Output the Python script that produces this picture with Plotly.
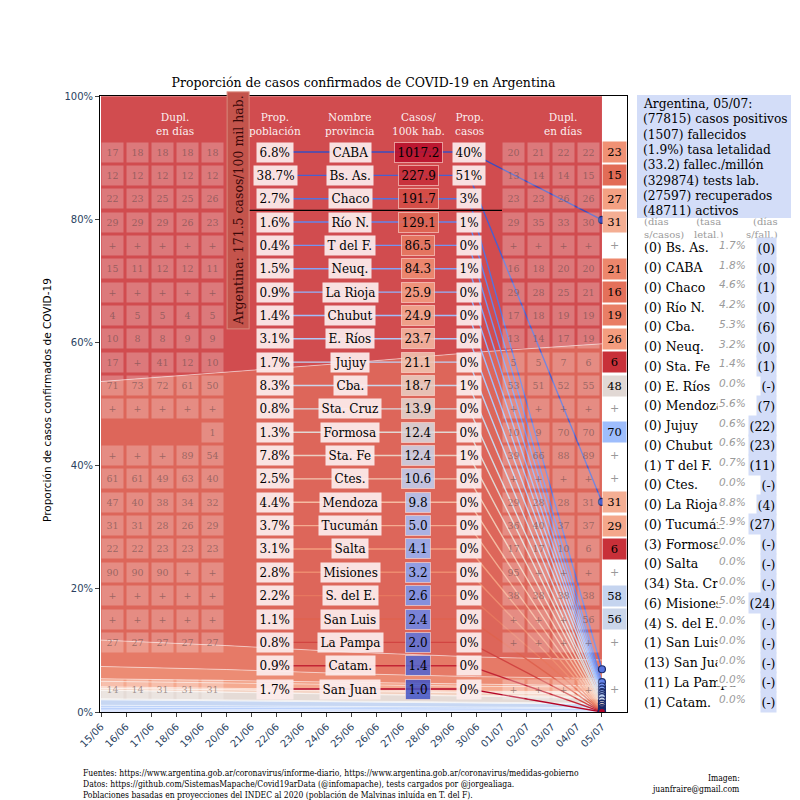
import plotly.graph_objects as go
import plotly.colors as pc

# ---------------- data ----------------
dates = ['15/06', '16/06', '17/06', '18/06', '19/06', '20/06', '21/06', '22/06', '23/06', '24/06',
         '25/06', '26/06', '27/06', '28/06', '29/06', '30/06', '01/07', '02/07', '03/07', '04/07', '05/07']

provinces = ['CABA', 'Bs. As.', 'Chaco', 'Río N.', 'T del F.', 'Neuq.', 'La Rioja', 'Chubut', 'E. Ríos',
             'Jujuy', 'Cba.', 'Sta. Cruz', 'Formosa', 'Sta. Fe', 'Ctes.', 'Mendoza', 'Tucumán', 'Salta',
             'Misiones', 'S. del E.', 'San Luis', 'La Pampa', 'Catam.', 'San Juan']
prop_poblacion = [6.8, 38.7, 2.7, 1.6, 0.4, 1.5, 0.9, 1.4, 3.1, 1.7, 8.3, 0.8, 1.3, 7.8, 2.5, 4.4,
                  3.7, 3.1, 2.8, 2.2, 1.1, 0.8, 0.9, 1.7]
casos_100k = [1017.2, 227.9, 191.7, 129.1, 86.5, 84.3, 25.9, 24.9, 23.7, 21.1, 18.7, 13.9, 12.4, 12.4,
              10.6, 9.8, 5.0, 4.1, 3.2, 2.6, 2.4, 2.0, 1.4, 1.0]
prop_casos = [40, 51, 3, 1, 0, 1, 0, 0, 0, 0, 1, 0, 0, 1, 0, 0, 0, 0, 0, 0, 0, 0, 0, 0]
casos_arg_100k = 171.5

# doubling days, first five dates
dupl_first = [
    ['17', '18', '18', '18', '18'], ['12', '12', '12', '12', '12'], ['22', '23', '25', '25', '26'],
    ['29', '29', '29', '26', '23'], ['+', '+', '+', '+', '+'], ['15', '11', '12', '12', '11'],
    ['+', '+', '+', '+', '+'], ['4', '5', '5', '4', '5'], ['10', '8', '8', '9', '9'],
    ['17', '+', '41', '12', '10'], ['71', '73', '72', '61', '50'], ['+', '+', '+', '+', '+'],
    ['', '', '', '', '1'], ['+', '+', '+', '89', '54'], ['61', '61', '49', '63', '40'],
    ['47', '40', '38', '34', '32'], ['31', '31', '28', '26', '29'], ['22', '22', '23', '23', '23'],
    ['90', '90', '90', '+', '+'], ['+', '+', '+', '+', '+'], ['+', '+', '+', '+', '+'],
    ['27', '27', '27', '27', '27'], ['', '', '', '', ''], ['14', '14', '31', '31', '31']]
# doubling days, 01/07 - 04/07
dupl_last4 = [
    ['20', '21', '22', '22'], ['13', '14', '14', '15'], ['23', '23', '26', '26'], ['29', '35', '33', '30'],
    ['+', '+', '+', '+'], ['16', '18', '20', '20'], ['29', '28', '25', '21'], ['17', '18', '19', '19'],
    ['13', '14', '17', '19'], ['5', '5', '7', '6'], ['53', '51', '52', '55'], ['+', '+', '+', '+'],
    ['10', '9', '70', '70'], ['39', '66', '88', '89'], ['+', '+', '+', '+'], ['29', '28', '28', '31'],
    ['36', '40', '37', '37'], ['17', '17', '10', '6'], ['95', '+', '+', '+'], ['38', '38', '38', '38'],
    ['+', '+', '+', '56'], ['+', '+', '+', '+'], ['', '', '', ''], ['+', '+', '+', '+']]
# doubling days, 05/07
dupl_today = ['23', '15', '27', '31', '+', '21', '16', '19', '26', '6', '48', '+', '70', '+', '+', '31',
              '29', '6', '+', '58', '56', '+', '', '+']

# share of cumulative cases (%) on a few dates, same order as provinces
share_dates = ['15/06', '20/06', '25/06', '30/06', '05/07']
share_cases = [
    [46.6, 45.0, 43.3, 41.6, 40.2], [42.2, 44.5, 47.0, 49.5, 51.3], [4.3, 3.9, 3.5, 3.2, 3.0],
    [2.0, 1.8, 1.5, 1.3, 1.2], [0.42, 0.37, 0.32, 0.27, 0.2], [0.9, 0.9, 0.85, 0.8, 0.74],
    [0.2, 0.2, 0.18, 0.15, 0.14], [0.03, 0.05, 0.1, 0.15, 0.2], [0.3, 0.3, 0.35, 0.4, 0.43],
    [0.02, 0.03, 0.05, 0.12, 0.21], [1.4, 1.3, 1.15, 1.0, 0.9], [0.16, 0.13, 0.1, 0.08, 0.06],
    [0.0, 0.0, 0.0, 0.06, 0.09], [0.9, 0.85, 0.75, 0.65, 0.56], [0.34, 0.3, 0.25, 0.19, 0.15],
    [0.3, 0.28, 0.27, 0.26, 0.25], [0.2, 0.17, 0.14, 0.12, 0.11], [0.05, 0.05, 0.05, 0.06, 0.07],
    [0.11, 0.09, 0.07, 0.06, 0.05], [0.04, 0.04, 0.04, 0.03, 0.03], [0.03, 0.03, 0.02, 0.02, 0.015],
    [0.02, 0.02, 0.015, 0.012, 0.01], [0.0, 0.0, 0.0, 0.0, 0.008], [0.01, 0.01, 0.01, 0.01, 0.01]]

# summary panel
resumen_fecha = '05/07'
resumen_valores = ['77815', '1507', '1.9%', '33.2', '329874', '27597', '48711']
resumen_textos = ['casos positivos', 'fallecidos', 'tasa letalidad', 'fallec./millón', 'tests lab.',
                  'recuperados', 'activos']

leyenda_nombres = ['Bs. As.', 'CABA', 'Chaco', 'Río N.', 'Cba.', 'Neuq.', 'Sta. Fe', 'E. Ríos', 'Mendoza',
                   'Jujuy', 'Chubut', 'T del F.', 'Ctes.', 'La Rioja', 'Tucumán', 'Formosa', 'Salta',
                   'Sta. Cruz', 'Misiones', 'S. del E.', 'San Luis', 'San Juan', 'La Pampa', 'Catam.']
leyenda_dias_casos = [0, 0, 0, 0, 0, 0, 0, 0, 0, 0, 0, 1, 0, 0, 0, 3, 0, 34, 6, 4, 1, 13, 11, 1]
leyenda_letalidad = [1.7, 1.8, 4.6, 4.2, 5.3, 3.2, 1.4, 0.0, 5.6, 0.6, 0.6, 0.7, 0.0, 8.8, 5.9, 0.0, 0.0,
                     0.0, 5.0, 0.0, 0.0, 0.0, 0.0, 0.0]
leyenda_dias_fall = ['0', '0', '1', '0', '6', '0', '1', '-', '7', '22', '23', '11', '-', '4', '27', '-',
                     '-', '-', '24', '-', '-', '-', '-', '-']

footer = ['Fuentes: https://www.argentina.gob.ar/coronavirus/informe-diario, https://www.argentina.gob.ar/coronavirus/medidas-gobierno',
          'Datos: https://github.com/SistemasMapache/Covid19arData (@infomapache), tests cargados por @jorgealiaga.',
          'Poblaciones basadas en proyecciones del INDEC al 2020 (población de Malvinas inluída en T. del F).']

# ---------------- layout helpers ----------------
SERIF = 'DejaVu Serif'
SANS = 'DejaVu Sans'
COND = 'DejaVu Serif Condensed, DejaVu Serif'
W, H = 800, 800
OFF = 8  # page body margin in the browser
L_PX, R_PX, T_PX, B_PX = 100, 627, 96, 712   # plot frame in screenshot pixels
XMIN, XMAX = -0.04, 21.0


def px2x(px):
    return XMIN + (px - L_PX) / (R_PX - L_PX) * (XMAX - XMIN)


def py2y(py):
    return (B_PX - py) / (B_PX - T_PX) * 100


def ppx(px):
    return (px - L_PX) / (R_PX - L_PX)


def ppy(py):
    return (B_PX - py) / (B_PX - T_PX)


COOLWARM = [[0.0, 'rgb(59,76,192)'], [0.125, 'rgb(98,130,234)'], [0.25, 'rgb(141,176,254)'],
            [0.375, 'rgb(184,208,249)'], [0.5, 'rgb(221,220,220)'], [0.625, 'rgb(245,196,173)'],
            [0.75, 'rgb(244,154,123)'], [0.875, 'rgb(222,96,77)'], [1.0, 'rgb(180,4,38)']]


def cw(t, alpha=None):
    t = min(max(t, 0), 1)
    c = pc.sample_colorscale(COOLWARM, [t])[0]
    if alpha is None:
        return c
    r, g, b = pc.unlabel_rgb(c)
    return f'rgba({int(r)},{int(g)},{int(b)},{alpha})'


n = len(provinces)
row_px = [152 + i * 23.35 for i in range(n)]
rank_t = [1 - i / (n - 1) for i in range(n)]
date_idx = {d: i for i, d in enumerate(dates)}
last = len(dates) - 1

fig = go.Figure()

# stacked areas (bottom = lowest incidence)
order = list(range(n))[::-1]
for i in order:
    fig.add_trace(go.Scatter(
        x=[date_idx[d] for d in share_dates], y=share_cases[i], stackgroup='one', groupnorm='percent',
        mode='lines', line=dict(color='rgba(255,255,255,0.5)', width=1),
        fillcolor=cw(rank_t[i] * 0.93, 0.9), hoverinfo='skip', showlegend=False))

# band midpoints on the last date
tot = sum(s[-1] for s in share_cases)
mids = [0] * n
cum = 0
for i in order:
    v = share_cases[i][-1] / tot * 100
    mids[i] = cum + v / 2
    cum += v

line_cols = [cw(1 - rank_t[i]) for i in range(n)]
for i in range(n):
    fig.add_trace(go.Scatter(
        x=[px2x(275), px2x(469), last], y=[py2y(row_px[i]), py2y(row_px[i]), mids[i]],
        mode='lines', line=dict(color=line_cols[i], width=1.4), hoverinfo='skip', showlegend=False))
fig.add_trace(go.Scatter(
    x=[last] * n, y=mids, mode='markers',
    marker=dict(size=7, color=line_cols, line=dict(color='#1a2a6a', width=1.2)),
    hoverinfo='skip', showlegend=False))

anns = []


def ann(x, y, text, size=12, color='black', family=SERIF, bg=None, border=None, w=None, h=None,
        pad=2, xref='x', yref='y', xanchor='center', yanchor='middle', angle=0, align='center'):
    d = dict(x=x, y=y, xref=xref, yref=yref, text=text, showarrow=False,
             font=dict(family=family, size=size, color=color), borderpad=pad,
             xanchor=xanchor, yanchor=yanchor, textangle=angle, align=align)
    if bg:
        d['bgcolor'] = bg
    if border:
        d['bordercolor'] = border
        d['borderwidth'] = 1
    if w:
        d['width'] = w
    if h:
        d['height'] = h
    anns.append(d)


# headers
hdr_col = 'rgba(255,255,255,0.92)'
for px, txt in [(175, 'Dupl.<br>en días'), (275, 'Prop.<br>población'), (350, 'Nombre<br>provincia'),
                (418, 'Casos/<br>100k hab.'), (469, 'Prop.<br>casos'), (563, 'Dupl.<br>en días')]:
    ann(px2x(px), py2y(124), txt, size=10.5, color=hdr_col)

small_bg = 'rgba(255,255,255,0.25)'
small_fg = 'rgba(90,70,70,0.55)'
left_cols = [112.5, 137.5, 162.5, 187.5, 212.5]
right_cols = [513, 538, 563, 588]
for i in range(n):
    y = py2y(row_px[i])
    for j, v in enumerate(dupl_first[i]):
        if v:
            ann(px2x(left_cols[j]), y, v, size=9.5, color=small_fg, bg=small_bg, w=19, h=17, pad=1)
    for j, v in enumerate(dupl_last4[i]):
        if v:
            ann(px2x(right_cols[j]), y, v, size=9.5, color=small_fg, bg=small_bg, w=19, h=17, pad=1)
    v = dupl_today[i]
    if v == '+':
        ann(px2x(614), y, '+', size=11, color='#999999')
    elif v:
        t = 1 - float(v) / 100
        ann(px2x(614), y, v, size=11.5, color='black', bg=cw(t), w=20, h=17, pad=1.5)
    ann(px2x(275), y, f'{prop_poblacion[i]:.1f}%', size=12, bg='rgba(252,236,236,0.93)', pad=2.5)
    ann(px2x(350), y, provinces[i], size=12, bg='rgba(252,236,236,0.93)', pad=2.5)
    ann(px2x(418), y, f'{casos_100k[i]:.1f}', size=12, bg=cw(rank_t[i] * 0.97 + 0.015, 0.85),
        border='rgba(255,225,215,0.6)', pad=2.5)
    ann(px2x(469), y, f'{prop_casos[i]}%', size=12, bg='rgba(252,236,236,0.93)', pad=2.5)

# Argentina average line and label
n_above = sum(1 for c in casos_100k if c > casos_arg_100k)
avg_py = (row_px[n_above - 1] + row_px[n_above]) / 2
shapes = [dict(type='line', xref='x', yref='y', x0=px2x(237), x1=px2x(502), y0=py2y(avg_py),
               y1=py2y(avg_py), line=dict(color='black', width=1.2))]
ann(px2x(238), py2y(avg_py), f'Argentina: {casos_arg_100k} casos/100 mil hab.', size=12.5,
    color='#3a0808', bg='#c4544c', border='#d98a7c', angle=-90, pad=3)

# summary panel
shapes.append(dict(type='rect', xref='paper', yref='paper', x0=ppx(637), x1=ppx(791), y0=ppy(218),
                   y1=ppy(95), fillcolor='#d3ddf8', line=dict(width=0), layer='below'))
sum_lines = [f'Argentina, {resumen_fecha}:'] + [f'({v}) {t}' for v, t in zip(resumen_valores, resumen_textos)]
for k, s in enumerate(sum_lines):
    ann(ppx(640), ppy(104 + k * 15.3), s, size=12.2, xref='paper', yref='paper', xanchor='left')

gray = '#9a9a9a'
ann(ppx(641), ppy(228), '(días<br>s/casos)', size=10, color=gray, xref='paper', yref='paper',
    xanchor='left', align='left')
ann(ppx(708), ppy(228), '(tasa<br>letal.)', size=10, color=gray, xref='paper', yref='paper')
ann(ppx(781), ppy(228), '(días<br>s/fall.)', size=10, color=gray, xref='paper', yref='paper',
    xanchor='right', align='right')
for k in range(len(leyenda_nombres)):
    yy = ppy(248 + k * 19.74)
    ann(ppx(641), yy, f'({leyenda_dias_casos[k]}) {leyenda_nombres[k]}', size=12.5, xref='paper',
        yref='paper', xanchor='left')
    ann(ppx(717), ppy(245 + k * 19.74), f'<i>{leyenda_letalidad[k]:.1f}%</i>', size=10.5, color=gray,
        family=SANS, bg='white', xref='paper', yref='paper', xanchor='left', pad=1)
    ann(ppx(777), yy, f'({leyenda_dias_fall[k]})', size=12.5, bg='#d3ddf8', xref='paper',
        yref='paper', xanchor='right', h=19, pad=0.5)

# y-axis title
ann(ppx(47), ppy(400), 'Proporción de casos confirmados de COVID-19', size=10.5, family=SANS,
    xref='paper', yref='paper', angle=-90)

# footer
for k, s in enumerate(footer):
    ann(ppx(80), ppy(773 + k * 11), s, size=8.5, family=COND, xref='paper', yref='paper', xanchor='left')
ann(ppx(743), ppy(778), 'Imagen:', size=8.5, family=COND, xref='paper', yref='paper', xanchor='right')
ann(ppx(743), ppy(789), 'juanfraire@gmail.com', size=8.5, family=COND, xref='paper', yref='paper',
    xanchor='right')

fig.update_layout(
    width=W, height=H,
    margin=dict(l=L_PX - OFF, r=W - (R_PX - OFF), t=T_PX - OFF, b=H - (B_PX - OFF)),
    paper_bgcolor='white', plot_bgcolor='white',
    title=dict(text='Proporción de casos confirmados de COVID-19 en Argentina',
               x=((L_PX + R_PX) / 2 - OFF) / W, xanchor='center', y=1 - (83 - OFF) / H, yanchor='middle',
               font=dict(family=SERIF, size=12.5, color='black')),
    xaxis=dict(range=[XMIN, XMAX], tickmode='array', tickvals=list(range(len(dates))), ticktext=dates,
               tickangle=-45, ticks='outside', ticklen=4, showline=True, mirror=True, linecolor='black',
               linewidth=1, showgrid=False, zeroline=False, tickfont=dict(family=SANS, size=10)),
    yaxis=dict(range=[0, 100], tickmode='array', tickvals=[0, 20, 40, 60, 80, 100],
               ticktext=['0%', '20%', '40%', '60%', '80%', '100%'], ticks='outside', ticklen=4,
               showline=True, mirror=True, linecolor='black', linewidth=1, showgrid=False,
               zeroline=False, tickfont=dict(family=SANS, size=10)),
    annotations=anns, shapes=shapes, showlegend=False)

fig.write_html('out.html')
